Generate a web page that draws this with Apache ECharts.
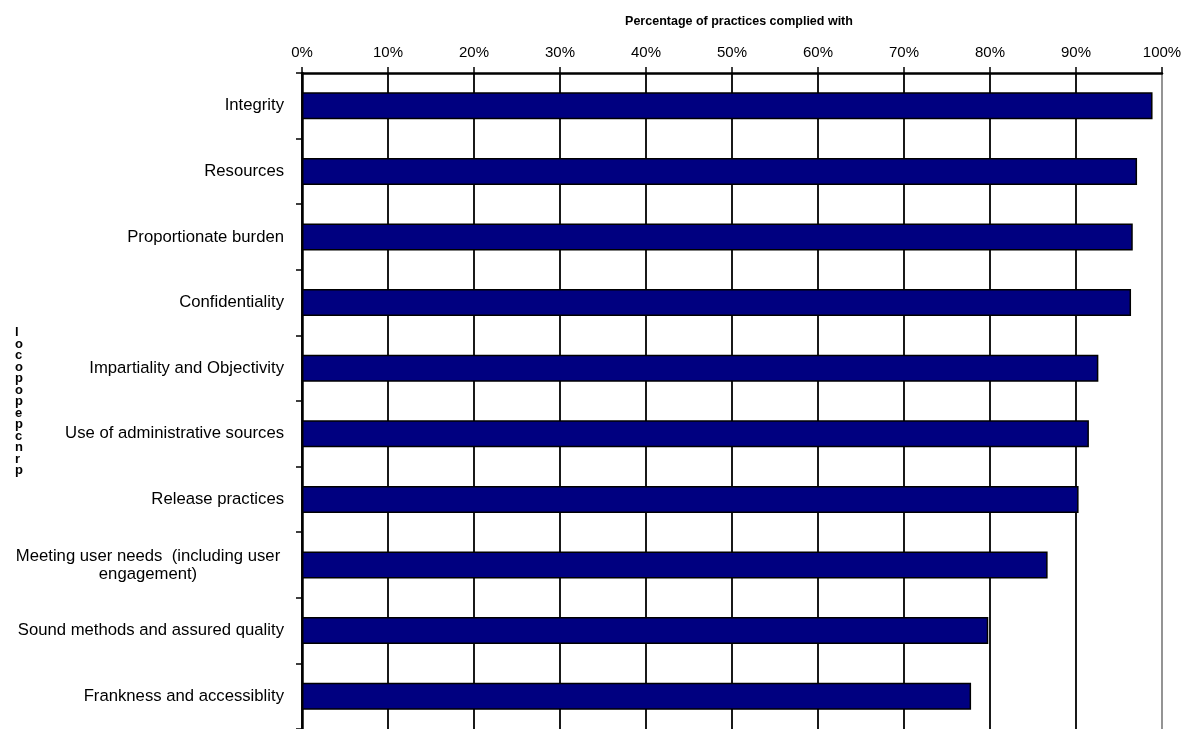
<!DOCTYPE html>
<html>
<head>
<meta charset="utf-8">
<script src="https://cdn.jsdelivr.net/npm/echarts@6/dist/echarts.min.js"></script>
<style>
  html, body { margin: 0; padding: 0; background: #fff; }
  #chart { width: 1190px; height: 729px; }
</style>
</head>
<body>
<div id="chart"></div>
<script>
// data
var categories = [
  'Integrity',
  'Resources',
  'Proportionate burden',
  'Confidentiality',
  'Impartiality and Objectivity',
  'Use of administrative sources',
  'Release practices',
  'Meeting user needs  (including user\nengagement)',
  'Sound methods and assured quality',
  'Frankness and accessiblity'
]
var values = [98.9, 97.1, 96.6, 96.4, 92.6, 91.5, 90.3, 86.7, 79.8, 77.8]
var xTitle = 'Percentage of practices complied with'
var yTitle = 'locopopepcnrp'

var font = "'Liberation Sans', Arial, sans-serif"
// grid lines black, last one (100%) grey
var gridColors = ['#000', '#000', '#000', '#000', '#000', '#000', '#000', '#000', '#000', '#000', '#888']

var myChart = echarts.init(document.getElementById('chart'))
var option = {
  backgroundColor: '#fff',
  animation: false,
  title: [
    {
      text: xTitle,
      left: 734,
      top: 10,
      textAlign: 'center',
      textStyle: { fontFamily: font, fontSize: 12.5, fontWeight: 'bold', color: '#000' }
    },
    {
      text: yTitle.split('').join('\n'),
      left: 10,
      top: 322,
      textStyle: { fontFamily: font, fontSize: 13, fontWeight: 'bold', color: '#000', lineHeight: 11.5 }
    }
  ],
  grid: {
    left: 302,
    top: 73,
    width: 860,
    height: 656,
    containLabel: false
  },
  xAxis: {
    type: 'value',
    position: 'top',
    min: 0,
    max: 100,
    interval: 10,
    axisLine: { show: true, lineStyle: { color: '#000', width: 2.5 } },
    axisTick: { show: true, inside: false, length: 6, lineStyle: { color: '#000', width: 1.5 } },
    axisLabel: {
      formatter: '{value}%',
      margin: 13,
      fontFamily: font,
      fontSize: 15,
      color: '#000'
    },
    splitLine: { show: true, lineStyle: { color: gridColors, width: 1.8 } }
  },
  yAxis: {
    type: 'category',
    data: categories,
    inverse: true,
    axisLine: { show: true, lineStyle: { color: '#000', width: 2.5 } },
    axisTick: { show: true, inside: false, length: 6, lineStyle: { color: '#000', width: 1.5 } },
    axisLabel: {
      margin: 18,
      fontFamily: font,
      fontSize: 16.7,
      color: '#000',
      lineHeight: 18,
      formatter: function (v) {
        if (v.indexOf('\n') < 0) return v
        return v.split('\n').map(function (s) { return '{c|' + s + '}' }).join('\n')
      },
      rich: {
        c: { width: 272, align: 'center', fontFamily: font, fontSize: 16.7, color: '#000', lineHeight: 18 }
      }
    },
    splitLine: { show: false }
  },
  series: [
    {
      type: 'bar',
      data: values,
      barWidth: 27,
      itemStyle: { color: '#000080', borderColor: '#000', borderWidth: 1.5 }
    }
  ]
}
myChart.setOption(option)
window.addEventListener('resize', function () {
  myChart.resize()
})
</script>
</body>
</html>
